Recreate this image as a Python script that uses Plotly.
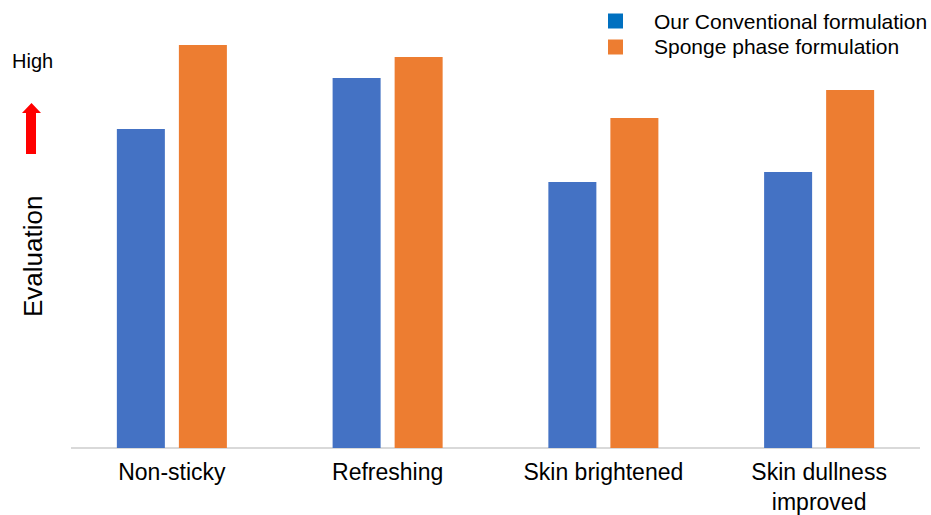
import plotly.graph_objects as go

categories = ["Non-sticky", "Refreshing", "Skin brightened", "Skin dullness<br>improved"]
series_names = ["Our Conventional formulation", "Sponge phase formulation"]
conventional = [3.19, 3.70, 2.66, 2.76]
sponge = [4.03, 3.91, 3.30, 3.58]
colors = ["#4472C4", "#ED7D31"]

W, H = 931, 515
ML, MR, MT, MB = 64, 4, 20, 67
PW = W - ML - MR
PH = H - MT - MB
YMAX = 4.28

def px(x):
    return (x - ML) / PW

def py(y):
    return (H - MB - y) / PH

FONT = "Liberation Sans, Arial, sans-serif"

fig = go.Figure()
for name, vals, c in zip(series_names, [conventional, sponge], colors):
    fig.add_trace(go.Bar(x=categories, y=vals, name=name, showlegend=False,
                         marker=dict(color=c, line=dict(width=0))))

# red arrow (decorative)
pts = [(31.5, 103), (41, 113), (36, 113), (36, 154), (26, 154), (26, 113), (22, 113)]
path = "M " + " L ".join(f"{px(a):.5f},{py(b):.5f}" for a, b in pts) + " Z"

shapes = [
    dict(type="line", xref="paper", yref="paper", x0=px(71), x1=px(920),
         y0=py(448), y1=py(448), line=dict(color="#D9D9D9", width=2), layer="below"),
    dict(type="path", xref="paper", yref="paper", path=path,
         fillcolor="#FF0000", line=dict(width=0)),
]
annotations = [
    dict(text="High", xref="paper", yref="paper", x=px(32), y=py(61),
         xanchor="center", yanchor="middle",
         showarrow=False, font=dict(size=20, color="#000000")),
    dict(text="Evaluation", xref="paper", yref="paper", x=px(33), y=py(257),
         xanchor="center", yanchor="middle",
         textangle=-90, showarrow=False, font=dict(size=26, color="#000000")),
]

# legend (drawn manually to match spacing)
legend_rows = [21, 47]
legend_colors = ["#0070C0", "#ED7D31"]
for name, c, yc in zip(series_names, legend_colors, legend_rows):
    shapes.append(dict(type="rect", xref="paper", yref="paper",
                       x0=px(608), x1=px(623), y0=py(yc - 7.5), y1=py(yc + 7.5),
                       fillcolor=c, line=dict(width=0)))
    annotations.append(dict(text=name, xref="paper", yref="paper", x=px(652), y=py(yc),
                            xanchor="left", yanchor="middle", showarrow=False,
                            font=dict(size=21, color="#000000")))

fig.update_layout(
    width=W, height=H,
    margin=dict(l=ML, r=MR, t=MT, b=MB),
    paper_bgcolor="white", plot_bgcolor="white",
    font=dict(family=FONT, color="#000000"),
    barmode="group", bargap=0.425, bargroupgap=0.226,
    showlegend=False,
    xaxis=dict(showline=False, showgrid=False, zeroline=False, ticks="",
               tickfont=dict(size=23, color="#000000"), range=[-0.5, 3.5],
               ticklabelstandoff=8, automargin=False),
    yaxis=dict(range=[0, YMAX], showticklabels=False, showgrid=False,
               zeroline=False, showline=False, ticks="", automargin=False),
    shapes=shapes,
    annotations=annotations,
)

fig.write_html("out.html")
